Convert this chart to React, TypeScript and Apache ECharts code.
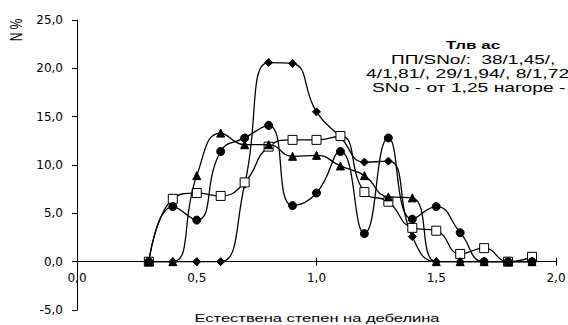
import React, { useEffect, useRef } from "react";
import * as echarts from "echarts";

const xValues = [0.3, 0.4, 0.5, 0.6, 0.7, 0.8, 0.9, 1.0, 1.1, 1.2, 1.3, 1.4, 1.5, 1.6, 1.7, 1.8, 1.9];
const diamondSeries = [0, 0, 0, 0, 8.0, 20.6, 20.5, 15.5, 12.9, 10.3, 10.4, 2.6, 0, 0, 0, 0, 0];
const circleSeries = [0, 5.7, 4.3, 11.4, 12.8, 14.1, 5.8, 7.1, 11.4, 2.9, 12.8, 4.4, 5.7, 3.0, 0, 0, 0];
const triangleSeries = [0, 0, 8.9, 13.3, 12.1, 12.1, 10.9, 11.0, 9.9, 8.9, 6.7, 6.6, 0, 0, 0, 0, 0];
const squareSeries = [0, 6.5, 7.1, 6.8, 8.2, 11.9, 12.6, 12.6, 13.0, 7.2, 6.2, 3.5, 3.2, 0.8, 1.4, 0, 0.5];

const annotationLines = [
  "Тлв ас",
  "ПП/SNo/:  38/1,45/,",
  "4/1,81/, 29/1,94/, 8/1,72",
  "SNo - от 1,25 нагоре -",
];
const xTitle = "Естествена степен на дебелина";
const yTitle = "N %";

const Y_MIN = -5;
const Y_MAX = 25;
const GRID_TOP = 20;
const GRID_BOTTOM = 15;
const CHART_H = 325;

const fmt = (v: number) => v.toFixed(1).replace(".", ",");

export default function App() {
  const ref = useRef<HTMLDivElement>(null);
  useEffect(() => {
    if (!ref.current) return;
    const chart = echarts.init(ref.current, null, { renderer: "svg" });
    const pair = (arr: number[]) => xValues.map((x, i) => [x, arr[i]]);
    const gridH = CHART_H - GRID_TOP - GRID_BOTTOM;
    const zeroOffset = -(gridH * (0 - Y_MIN)) / (Y_MAX - Y_MIN);
    const base = {
      type: "line",
      smooth: 0.5,
      lineStyle: { color: "#000", width: 1.3 },
      itemStyle: { color: "#000", borderColor: "#000", borderWidth: 1 },
      symbolSize: 8,
      showAllSymbol: true,
    };
    const textFont = "Liberation Sans";
    const mkText = (text: string, x: number, y: number, size: number, sx: number, bold = false, align = "left") => ({
      type: "text",
      x,
      y,
      scaleX: sx,
      style: {
        text,
        font: `${bold ? "bold " : ""}${size}px "${textFont}"`,
        fill: "#000",
        textAlign: align,
        textVerticalAlign: "middle",
      },
    });
    chart.setOption({
      animation: false,
      backgroundColor: "#fff",
      grid: {
        left: 77,
        right: 12,
        top: GRID_TOP,
        bottom: GRID_BOTTOM,
        containLabel: false,
        outerBoundsMode: "none",
      },
      xAxis: [
        {
          type: "value",
          min: 0,
          max: 2,
          interval: 0.5,
          position: "bottom",
          offset: zeroOffset,
          axisLine: { onZero: false, lineStyle: { color: "#000", width: 1 } },
          axisTick: { show: true, length: 4, lineStyle: { color: "#000" } },
          splitLine: { show: false },
          axisLabel: {
            formatter: (v: number) => fmt(v),
            color: "#000",
            fontFamily: "DejaVu Sans",
            fontSize: 12,
            margin: 10,
          },
        },
        {
          type: "value",
          min: 0,
          max: 2,
          interval: 0.5,
          position: "bottom",
          offset: zeroOffset,
          axisLine: { show: false, onZero: false },
          axisTick: { show: true, inside: true, length: 4, lineStyle: { color: "#000" } },
          splitLine: { show: false },
          axisLabel: { show: false },
        },
      ],
      yAxis: {
        type: "value",
        min: Y_MIN,
        max: Y_MAX,
        interval: 5,
        axisLine: { show: true, onZero: false, lineStyle: { color: "#000", width: 1 } },
        axisTick: { show: true, length: 5, lineStyle: { color: "#000" } },
        splitLine: { show: false },
        axisLabel: {
          formatter: (v: number) => fmt(v),
          color: "#000",
          fontFamily: "DejaVu Sans",
          fontSize: 12,
          margin: 14,
        },
      },
      series: [
        { ...base, name: "diamond", symbol: "diamond", z: 2, data: pair(diamondSeries) },
        {
          ...base,
          name: "square",
          symbol: "rect",
          z: 3,
          itemStyle: { color: "#fff", borderColor: "#000", borderWidth: 1 },
          symbolSize: 9,
          data: pair(squareSeries),
        },
        { ...base, name: "circle", symbol: "circle", z: 4, data: pair(circleSeries) },
        { ...base, name: "triangle", symbol: "triangle", z: 5, data: pair(triangleSeries) },
      ],
      graphic: [
        mkText(annotationLines[0], 473, 45, 11, 1.55, true, "center"),
        mkText(annotationLines[1], 391, 59, 13, 1.46),
        mkText(annotationLines[2], 366, 73, 13, 1.48),
        mkText(annotationLines[3], 372, 87, 13, 1.48),
        mkText(xTitle, 317, 318, 11, 1.5, false, "center"),
        {
          type: "text",
          x: 16,
          y: 30,
          rotation: Math.PI / 2,
          scaleY: 1.4,
          style: {
            text: yTitle,
            font: `12px "${textFont}"`,
            fill: "#000",
            textAlign: "center",
            textVerticalAlign: "middle",
          },
        },
      ],
    });
    return () => chart.dispose();
  }, []);
  return (
    <div
      ref={ref}
      style={{ position: "fixed", left: 0, top: 0, width: 568, height: 325, background: "#fff" }}
    />
  );
}
